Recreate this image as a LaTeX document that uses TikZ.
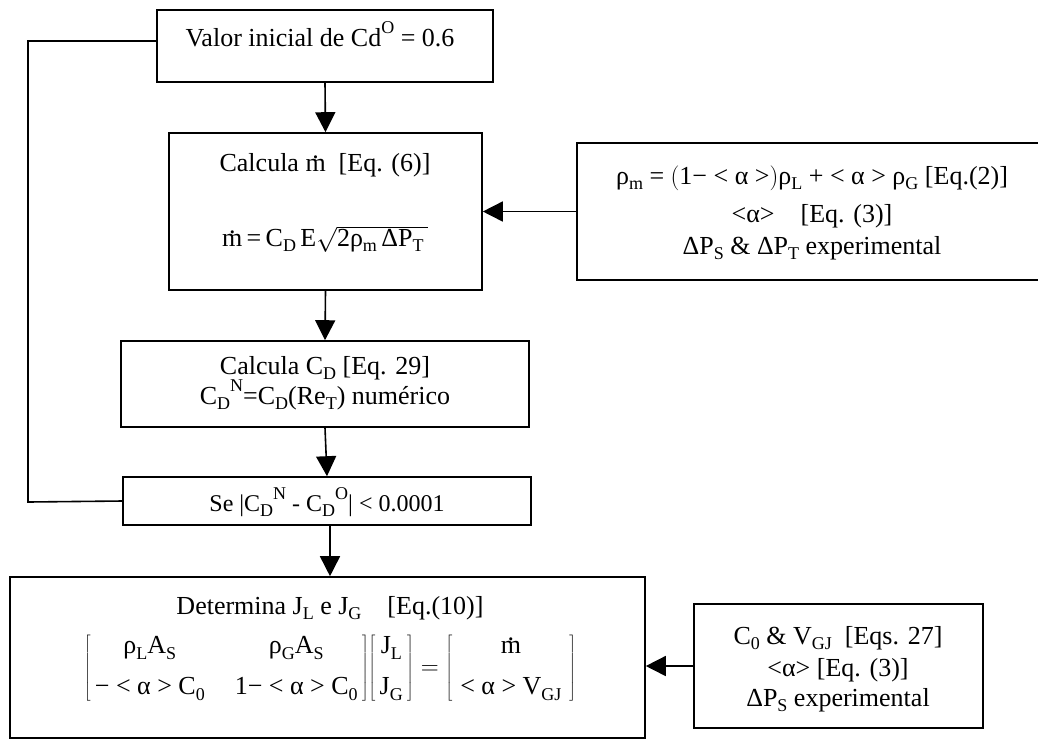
\documentclass[tikz,border=0pt]{standalone}
\usepackage{fontspec}
\setmainfont{Liberation Serif}
\usetikzlibrary{arrows.meta}
\newcommand\mdotx{\leavevmode\setbox0\hbox{m}\hbox to\wd0{\hss\raisebox{0.5em}{.}\hss}\llap{m}}
\newcommand\sbx[1]{\raisebox{-0.22em}{\fontsize{18}{18}\selectfont #1}}
\newcommand\spx[1]{\raisebox{0.5em}{\fontsize{18}{18}\selectfont #1}}
\begin{document}
\begin{tikzpicture}[x=1pt,y=-1pt,
  box/.style={draw,line width=1.6pt,inner sep=0pt},
  txt/.style={font=\fontsize{26}{30}\selectfont,inner sep=0pt,anchor=base},
  arr/.style={line width=1.6pt,-{Triangle[length=20pt,width=20pt]}},
  ln/.style={line width=1.6pt}]
\useasboundingbox (0,0) rectangle (1038,740);
% boxes
\node[box,minimum width=336pt,minimum height=72pt] (b1) at (325,46) {};
\node[box,minimum width=313pt,minimum height=157pt] (b2) at (325.5,211.5) {};
\node[box,minimum width=470pt,minimum height=137pt] (b3) at (812,211.5) {};
\node[box,minimum width=408pt,minimum height=86pt] (b4) at (325,384) {};
\node[box,minimum width=408pt,minimum height=48pt] (b5) at (327,501) {};
\node[box,minimum width=635pt,minimum height=161pt] (b6) at (327.5,657.5) {};
\node[box,minimum width=289pt,minimum height=124pt] (b7) at (838.5,666) {};
% texts
\node[txt] (t1) at (320,46) {Valor inicial de Cd\spx{O} = 0.6};
\node[txt] (t2a) at (325,171) {Calcula \mdotx\ \ [Eq. (6)]};
\node[txt] (t2b) at (325,246) {\mdotx\,=\,C\sbx{D}\,E$\sqrt{\hbox{2ρ\sbx{m}\,ΔP\sbx{T}\,}}$};
\node[txt] (t3a) at (812,184) {ρ\sbx{m} = $\bigl($1− < α >$\bigr)$ρ\sbx{L} + < α > ρ\sbx{G} [Eq.(2)]};
\node[txt] (t3b) at (812,222) {<α>\quad [Eq. (3)]};
\node[txt] (t3c) at (812,254) {ΔP\sbx{S} \& ΔP\sbx{T} experimental};
\node[txt] (t4a) at (325,374) {Calcula C\sbx{D} [Eq. 29]};
\node[txt] (t4b) at (325,404) {C\sbx{D}\spx{N}=C\sbx{D}(Re\sbx{T}) numérico};
\node[txt,font=\fontsize{24}{28}\selectfont] (t5) at (327,511) {Se |C\sbx{D}\spx{N} - C\sbx{D}\spx{O}| < 0.0001};
\node[txt] (t6a) at (330,614) {Determina J\sbx{L} e J\sbx{G}\quad [Eq.(10)]};
\node[txt,anchor=center] (t6b) at (330,668) {$\left[\begin{tabular}{@{\,}c@{\hspace{30pt}}c@{\,}}ρ\sbx{L}A\sbx{S} & ρ\sbx{G}A\sbx{S}\\[11pt] − < α > C\sbx{0} & 1− < α > C\sbx{0}\end{tabular}\right]\!\left[\begin{tabular}{@{\,}c@{\,}}J\sbx{L}\\[11pt]J\sbx{G}\end{tabular}\right]=\left[\begin{tabular}{@{\hspace{8pt}}c@{\hspace{8pt}}}\mdotx\\[11pt]< α > V\sbx{GJ}\end{tabular}\right]$};
\node[txt] (t7a) at (838,644) {C\sbx{0} \& V\sbx{GJ}\ \ [Eqs. 27]};
\node[txt] (t7b) at (838,676) {<α> [Eq. (3)]};
\node[txt] (t7c) at (838,706) {ΔP\sbx{S} experimental};
% connectors
\draw[arr] (b1.south) -- (b2.north);
\draw[arr] (b2.south) -- (b4.north);
\draw[arr] (b4.south) -- (b5.north);
\draw[arr] (b5.south -| t6a) -- (b6.north -| t6a);
\draw[arr] (b3.west) -- (b2.east);
\draw[arr] (b7.west) -- (b6.east |- b7.west);
\coordinate (lb) at (28,502);
\coordinate (lt) at (28,41);
\draw[ln] (b5.west) -- (lb) -- (lt) -- (lt -| b1.west);
\end{tikzpicture}
\end{document}
